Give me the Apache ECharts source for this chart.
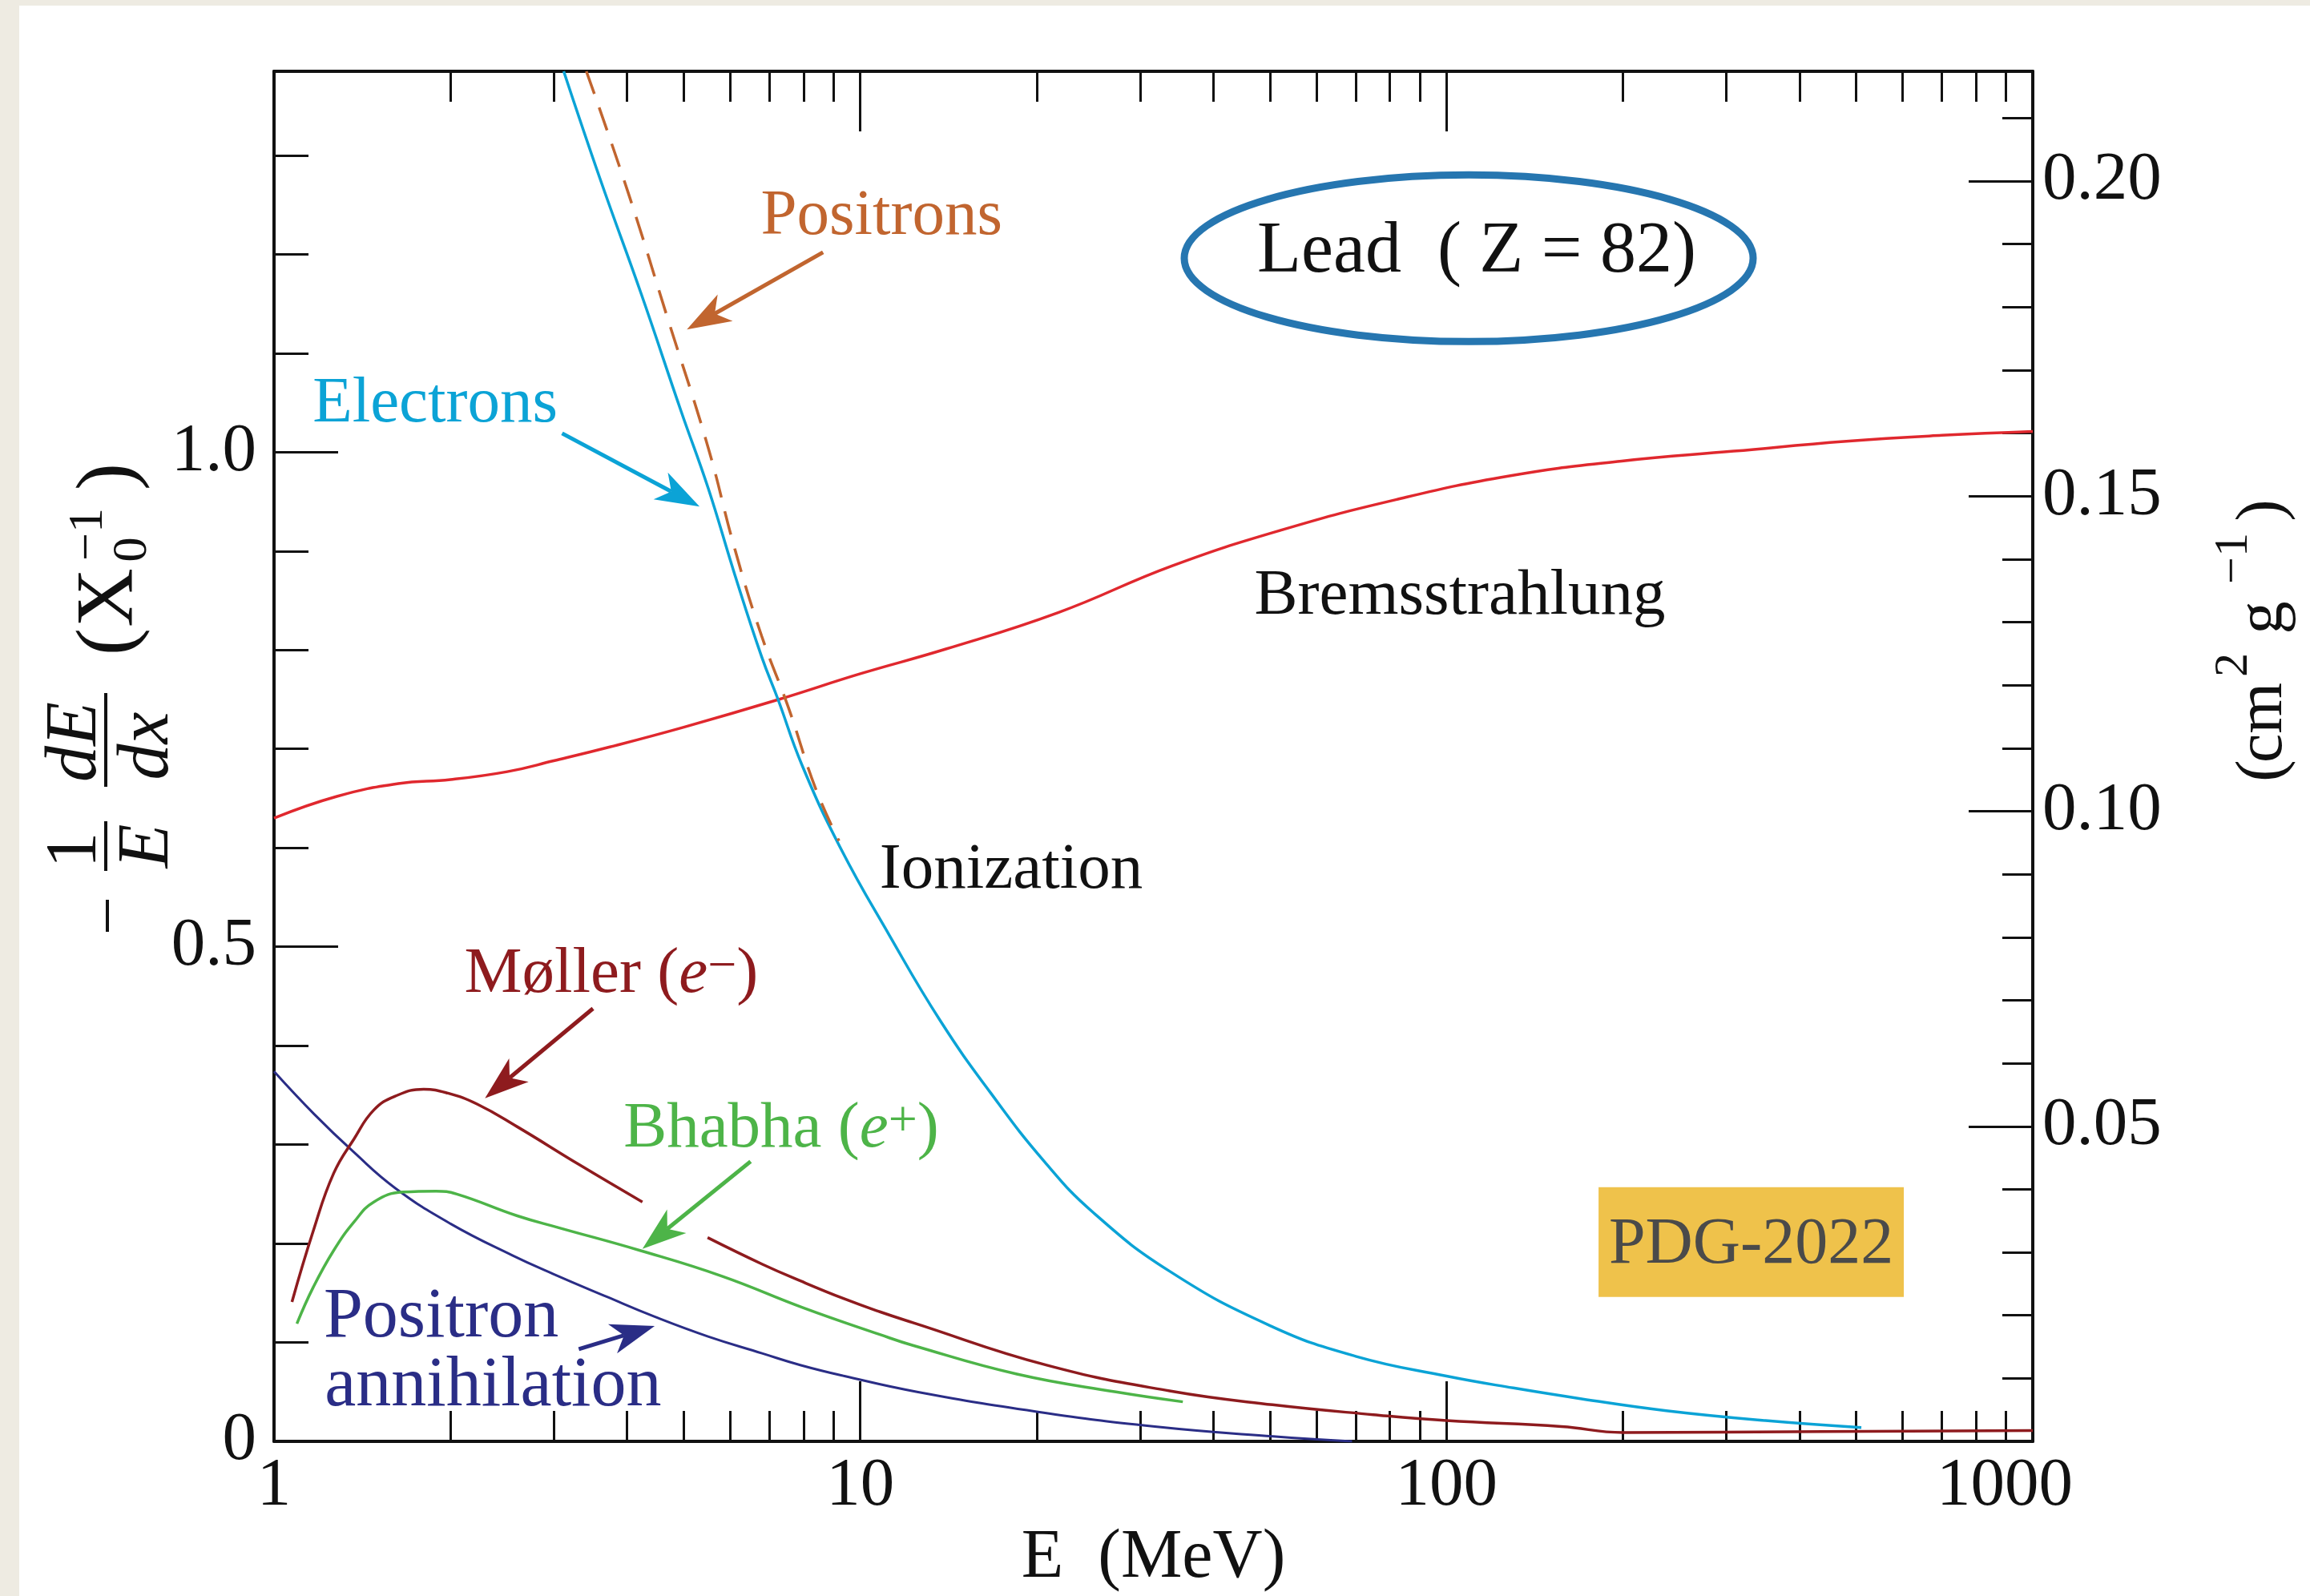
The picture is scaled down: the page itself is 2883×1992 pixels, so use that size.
<!DOCTYPE html>
<html lang="en">
<head>
    <meta charset="UTF-8">
    <title>Fractional energy loss per radiation length in lead</title>
    <script src="https://cdn.jsdelivr.net/npm/echarts@6/dist/echarts.min.js"></script>
    <style>
        html, body { margin: 0; padding: 0; background: #EEEBE2; }
        #chart { width: 2883px; height: 1992px; }
    </style>
</head>
<body>
<div id="chart"></div>
<script>
    // E (MeV) vs -(1/E) dE/dx in units of 1/X0
    const bremsstrahlung = [
        [1, 0.630], [1.28, 0.652], [1.63, 0.665], [2.0, 0.669], [2.5, 0.677], [3.0, 0.688],
        [3.74, 0.702], [5.0, 0.722], [7.26, 0.750], [10, 0.776], [14, 0.801], [21.8, 0.838],
        [34, 0.885], [52.8, 0.922], [82, 0.952], [128, 0.976], [199, 0.991], [309, 1.001],
        [481, 1.011], [700, 1.017], [1000, 1.021]
    ];
    const electrons = [
        [3.12, 1.385], [3.61, 1.274], [4.23, 1.160], [4.95, 1.041], [5.5, 0.964], [6.11, 0.876],
        [6.79, 0.793], [7.24, 0.750], [7.95, 0.684], [9.25, 0.600], [11.2, 0.512], [13.7, 0.425],
        [16.7, 0.352], [20.6, 0.283], [25, 0.231], [33.7, 0.172], [50, 0.117], [70, 0.086],
        [100, 0.066], [130, 0.054], [170, 0.043], [237, 0.031], [350, 0.021], [510, 0.014]
    ];
    const positrons = [
        [3.41, 1.385], [4.01, 1.264], [4.70, 1.134], [5.5, 1.005], [6.11, 0.902], [6.79, 0.814],
        [7.55, 0.741], [8.39, 0.660], [9.2, 0.607]
    ];
    const moller = [
        [1.073, 0.141], [1.167, 0.213], [1.264, 0.271], [1.37, 0.306], [1.48, 0.335], [1.61, 0.349],
        [1.8, 0.356], [1.98, 0.352], [2.22, 0.341], [2.6, 0.318], [3.31, 0.280], [4.25, 0.242],
        [4.8, '-'],
        [5.49, 0.206], [6.81, 0.179], [7.92, 0.162], [9.4, 0.144], [10.8, 0.131], [12.3, 0.120],
        [20.8, 0.077], [33.7, 0.051], [50.5, 0.037], [75, 0.027], [100, 0.021], [157, 0.015],
        [200, 0.009], [440, 0.010], [1000, 0.011]
    ];
    const bhabha = [
        [1.094, 0.119], [1.167, 0.156], [1.264, 0.193], [1.37, 0.222], [1.48, 0.242], [1.66, 0.252],
        [1.89, 0.253], [2.05, 0.250], [2.6, 0.228], [3.06, 0.216], [4.21, 0.193], [5.81, 0.167],
        [8.0, 0.135], [10.8, 0.108], [12.3, 0.097], [18.5, 0.068], [27.3, 0.050], [35.5, 0.040]
    ];
    const annihilation = [
        [1.0, 0.374], [1.17, 0.331], [1.37, 0.292], [1.61, 0.256], [2.0, 0.220], [2.55, 0.188],
        [3.0, 0.169], [3.7, 0.146], [4.46, 0.126], [5.5, 0.106], [6.8, 0.089], [7.92, 0.077],
        [9.4, 0.066], [12.5, 0.050], [20, 0.030], [31.8, 0.015], [50.6, 0.005], [69, 0]
    ];

    // axes
    const xLabels = [1, 10, 100, 1000];
    const xMajorTicks = [10, 100];
    const xMinorTicks = [2, 3, 4, 5, 6, 7, 8, 9, 20, 30, 40, 50, 60, 70, 80, 90,
        200, 300, 400, 500, 600, 700, 800, 900];
    const yLabels = [0, 0.5, 1.0];
    const yMajorTicks = [0.5, 1.0];
    const yMinorTicks = [0.1, 0.2, 0.3, 0.4, 0.6, 0.7, 0.8, 0.9, 1.1, 1.2, 1.3];
    const rightLabels = [0.05, 0.10, 0.15, 0.20];
    const rightMinorTicks = [0.01, 0.02, 0.03, 0.04, 0.06, 0.07, 0.08, 0.09, 0.11, 0.12,
        0.13, 0.14, 0.16, 0.17, 0.18, 0.19, 0.21];
    const yMax = 1.385;
    const leadX0 = 6.37;   // g/cm2, converts 1/X0 to cm2/g

    const serif = "'Liberation Serif', 'Times New Roman', serif";
    const ink = '#111';
    const C = {
        brems: '#E0282E', electrons: '#0BA3D6', positrons: '#C1652F',
        moller: '#8E1B1E', bhabha: '#4DB448', annih: '#2A2D86'
    };

    let chart = echarts.init(document.getElementById('chart'));

    function xAxisDef(pos, ticks, len, withLabels, showLine) {
        return {
            type: 'log', logBase: 10, min: 1, max: 1000, position: pos,
            axisLine: {show: showLine, onZero: false, lineStyle: {color: ink, width: 4}},
            axisTick: {show: true, inside: true, length: len, customValues: ticks,
                lineStyle: {color: ink, width: 3}},
            axisLabel: withLabels ? {
                show: true, customValues: xLabels, margin: 14, fontSize: 85, fontFamily: serif, color: ink,
                formatter: v => v === 1000 ? '{last|1000}' : String(v),
                rich: {last: {padding: [0, 70, 0, 0], fontSize: 85, fontFamily: serif, color: ink}}
            } : {show: false},
            splitLine: {show: false},
            name: withLabels ? 'E  (MeV)' : '',
            nameLocation: 'middle', nameGap: 97,
            nameTextStyle: {fontSize: 86, fontFamily: serif, color: ink}
        };
    }

    function yAxisDef(pos, max, ticks, len, labels, fmt, margin, showLine) {
        return {
            type: 'value', min: 0, max: max, position: pos,
            axisLine: {show: showLine, onZero: false, lineStyle: {color: ink, width: 4}},
            axisTick: {show: true, inside: true, length: len, customValues: ticks,
                lineStyle: {color: ink, width: 3}},
            axisLabel: labels ? {
                show: true, customValues: labels, margin: margin, fontSize: 85, fontFamily: serif,
                color: ink, formatter: fmt
            } : {show: false},
            splitLine: {show: false}
        };
    }

    function curve(name, data, color, width, dashed) {
        return {
            name: name, type: 'line', data: data, xAxisIndex: 0, yAxisIndex: 0,
            showSymbol: false, symbol: 'none', smooth: 0.45, connectNulls: false,
            lineStyle: {color: color, width: width, type: dashed ? [30, 18] : 'solid'},
            itemStyle: {color: color}, z: 3
        };
    }

    let option = {
        animation: false,
        backgroundColor: '#EEEBE2',
        grid: {left: 342, right: 346, top: 89, bottom: 193, containLabel: false, outerBoundsMode: 'none'},
        xAxis: [
            xAxisDef('bottom', xMajorTicks, 75, true, true),
            xAxisDef('bottom', xMinorTicks, 38, false, false),
            xAxisDef('top', xMajorTicks, 75, false, true),
            xAxisDef('top', xMinorTicks, 38, false, false)
        ],
        yAxis: [
            yAxisDef('left', yMax, yMajorTicks, 80, yLabels, v => v === 0 ? '0' : v.toFixed(1), 22, true),
            yAxisDef('left', yMax, yMinorTicks, 43, null, null, 0, false),
            yAxisDef('right', yMax / leadX0, rightLabels, 80, rightLabels, v => v.toFixed(2), 12, true),
            yAxisDef('right', yMax / leadX0, rightMinorTicks, 38, null, null, 0, false)
        ],
        series: [
            curve('Bremsstrahlung', bremsstrahlung, C.brems, 3.5, false),
            curve('Positron annihilation', annihilation, C.annih, 3, false),
            curve('Bhabha', bhabha, C.bhabha, 3.5, false),
            curve('Møller', moller, C.moller, 3.5, false),
            curve('Electrons', electrons, C.electrons, 3.5, false),
            curve('Positrons', positrons, C.positrons, 3.5, true)
        ]
    };
    chart.setOption(option);

    // annotations, anchored in data coordinates
    const P = (e, v) => chart.convertToPixel({xAxisIndex: 0, yAxisIndex: 0}, [e, v]);

    function label(text, at, color, size, align, extra) {
        const p = P(at[0], at[1]);
        return {
            type: 'text', x: p[0], y: p[1], z: 10,
            style: Object.assign({
                text: text, fontSize: size, fontFamily: serif, fill: color,
                align: align || 'center', verticalAlign: 'middle',
                textAlign: align || 'center', textVerticalAlign: 'middle'
            }, extra || {})
        };
    }

    function arrow(from, to, color) {
        const a = P(from[0], from[1]), b = P(to[0], to[1]);
        const dx = b[0] - a[0], dy = b[1] - a[1], L = Math.hypot(dx, dy);
        const ux = dx / L, uy = dy / L;
        const hl = 55, hw = 19, notch = 40;
        const base = [b[0] - ux * hl, b[1] - uy * hl];
        const nb = [b[0] - ux * notch, b[1] - uy * notch];
        return [
            {type: 'line', z: 10, shape: {x1: a[0], y1: a[1], x2: nb[0], y2: nb[1]},
                style: {stroke: color, lineWidth: 5}},
            {type: 'polygon', z: 10, shape: {points: [b, [base[0] - uy * hw, base[1] + ux * hw], nb,
                        [base[0] + uy * hw, base[1] - ux * hw]]}, style: {fill: color}}
        ];
    }

    function t(text, x, y, size, italic) {
        return {type: 'text', x: x, y: y, style: {
            text: text, fontSize: size, fontFamily: serif, fill: ink, fontStyle: italic ? 'italic' : 'normal',
            align: 'center', verticalAlign: 'middle', textAlign: 'center', textVerticalAlign: 'middle'}};
    }
    function bar(x, y, w, h) {
        return {type: 'rect', shape: {x: x, y: y, width: w, height: h}, style: {fill: ink}};
    }

    const rich = (color) => ({
        a: {fontSize: 81, fontFamily: serif, color: color},
        i: {fontSize: 81, fontFamily: serif, color: color, fontStyle: 'italic'},
        s: {fontSize: 64, fontFamily: serif, color: color, verticalAlign: 'top', lineHeight: 58}
    });

    const lead = P(109.1, 1.196);
    const pdgA = P(181.7, 0.2569), pdgB = P(602.6, 0.1459);

    let graphics = [
        {type: 'rect', z: -100, silent: true, shape: {x: 24, y: 7, width: 2859, height: 1985},
            style: {fill: '#ffffff'}},
        {type: 'ellipse', z: 10, shape: {cx: lead[0], cy: lead[1], rx: 355, ry: 104},
            style: {fill: 'transparent', stroke: '#2676B0', lineWidth: 9}},
        label('Lead  ( Z = 82)', [112.6, 1.2018], ink, 90),
        label('Bremsstrahlung', [105.4, 0.854], ink, 81),
        label('Ionization', [18.09, 0.577], ink, 81),
        label('Positrons', [10.87, 1.2375], C.positrons, 81),
        label('Electrons', [1.883, 1.048], C.electrons, 81),
        label('{a|Møller (}{i|e}{s|−}{a|)}', [3.76, 0.4716], C.moller, 81, 'center', {rich: rich(C.moller)}),
        label('{a|Bhabha (}{i|e}{s|+}{a|)}', [7.33, 0.315], C.bhabha, 81, 'center', {rich: rich(C.bhabha)}),
        label('Positron', [1.215, 0.1252], C.annih, 88, 'left'),
        label('annihilation', [1.22, 0.055], C.annih, 88, 'left'),
        {type: 'rect', z: 10, shape: {x: pdgA[0], y: pdgA[1], width: pdgB[0] - pdgA[0], height: pdgB[1] - pdgA[1]},
            style: {fill: '#EFC24B'}},
        {type: 'text', z: 11, x: (pdgA[0] + pdgB[0]) / 2, y: (pdgA[1] + pdgB[1]) / 2 + 4,
            style: {text: 'PDG-2022', fontSize: 82, fontFamily: serif, fill: '#4A4A4A',
                align: 'center', verticalAlign: 'middle', textAlign: 'center', textVerticalAlign: 'middle'}},
        // left axis title: - (1/E) (dE/dx) (X0^-1), written bottom to top
        {type: 'group', x: 138, y: 873, rotation: Math.PI / 2, children: [
            bar(-290, -6, 40, 4),
            t('1', -188, -43, 90),
            bar(-214, -8, 62, 4),
            t('E', -183, 47, 90, true),
            t('dE', -53, -43, 90, true),
            bar(-109, -8, 117, 4),
            t('dx', -58, 47, 90, true),
            t('(', 72, 0, 102),
            t('X', 127, 0, 102),
            t('0', 187, 28, 62),
            t('−1', 206, -27, 62),
            t(')', 278, 0, 102)
        ]},
        // right axis title: (cm^2 g^-1)
        {type: 'group', x: 2814, y: 800, rotation: Math.PI / 2, children: [
            t('(', -162, 11, 82),
            t('cm', -102, 11, 82),
            t('2', -30, -26, 60),
            t('g', 29, 11, 82),
            t('−1', 103, -26, 60),
            t(')', 163, 11, 82)
        ]}
    ];
    graphics = graphics.concat(
        arrow([8.64, 1.202], [5.06, 1.124], C.positrons),
        arrow([3.10, 1.019], [5.32, 0.945], C.electrons),
        arrow([3.50, 0.4376], [2.29, 0.3468], C.moller),
        arrow([6.50, 0.283], [4.25, 0.1945], C.bhabha),
        arrow([3.31, 0.0932], [4.46, 0.1167], C.annih)
    );
    chart.setOption({graphic: graphics});
</script>
</body>
</html>
